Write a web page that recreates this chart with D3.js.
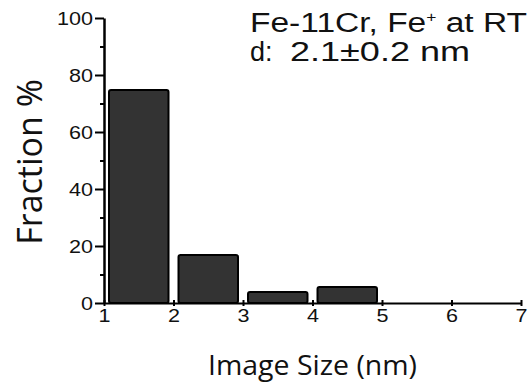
<!DOCTYPE html>
<html>
<head>
<meta charset="utf-8">
<script src="https://cdn.jsdelivr.net/npm/d3@7"></script>
<style>
  body { margin: 0; background: #fff; }
  svg { display: block; }
</style>
</head>
<body>
<div id="chart"></div>
<script>
"use strict";

// histogram bins (nm) and fraction values
var binLow = [1, 2, 3, 4];
var binHigh = [2, 3, 4, 5];
var fraction = [74.7, 16.8, 3.9, 5.6];

var xTicks = [1, 2, 3, 4, 5, 6, 7];
var yTicks = [0, 20, 40, 60, 80, 100];
var yMinorTicks = [10, 30, 50, 70, 90];

var titleLine1 = "Fe-11Cr, Fe";
var titleSup = "+";
var titleLine1b = " at RT";
var titleLine2a = "d:";
var titleLine2b = "2.1\u00b10.2 nm";
var xLabel = "Image Size (nm)";
var yLabel = "Fraction %";

var width = 532, height = 383;

var svg = d3.select("#chart")
    .append("svg")
    .attr("width", width)
    .attr("height", height);

var x = d3.scaleLinear().domain([1, 7]).range([104, 521]);
var y = d3.scaleLinear().domain([0, 100]).range([303, 18]);

var tickFont = "'Liberation Sans', Arial, sans-serif";

// bars
var bins = binLow.map(function(d, i) {
  return { lo: d, hi: binHigh[i], v: fraction[i] };
});

svg.append("g")
  .selectAll("rect")
  .data(bins)
  .enter()
  .append("rect")
    .attr("x", function(d) { return x(d.lo) + 5; })
    .attr("y", function(d) { return y(d.v); })
    .attr("width", function(d) { return x(d.hi) - x(d.lo) - 10; })
    .attr("height", function(d) { return y(0) - y(d.v); })
    .attr("rx", 2)
    .attr("fill", "#333333")
    .attr("stroke", "#000")
    .attr("stroke-width", 2);

// y minor ticks
var yMinor = svg.append("g")
    .attr("transform", "translate(" + x(1) + ",0)")
    .call(d3.axisLeft(y).tickValues(yMinorTicks).tickSize(4).tickFormat(""));
yMinor.select(".domain").remove();
yMinor.selectAll("line").attr("stroke-width", 2);

// y axis
var yAxis = svg.append("g")
    .attr("transform", "translate(" + x(1) + ",0)")
    .call(d3.axisLeft(y).tickValues(yTicks).tickSize(9).tickPadding(2).tickSizeOuter(0));
yAxis.select(".domain").attr("stroke-width", 2.5);
yAxis.selectAll("line").attr("stroke-width", 2);
yAxis.selectAll("text")
    .attr("font-family", tickFont)
    .attr("font-size", "19px")
    .attr("fill", "#111")
    .attr("textLength", function(d) { return String(d).length * 12; })
    .attr("lengthAdjust", "spacingAndGlyphs");

// x axis
var xAxis = svg.append("g")
    .attr("transform", "translate(0," + y(0) + ")")
    .call(d3.axisBottom(x).tickValues(xTicks).tickFormat(d3.format("d"))
      .tickSize(3).tickPadding(3).tickSizeOuter(0));
xAxis.select(".domain").attr("stroke-width", 2);
xAxis.selectAll("line").attr("y1", -3).attr("stroke-width", 2);
xAxis.selectAll("text")
    .attr("font-family", tickFont)
    .attr("font-size", "19px")
    .attr("fill", "#111")
    .attr("textLength", 12)
    .attr("lengthAdjust", "spacingAndGlyphs");

// axis titles
svg.append("text")
    .attr("x", 208)
    .attr("y", 375)
    .attr("font-family", "'Open Sans', sans-serif")
    .attr("font-size", "27px")
    .attr("fill", "#111")
    .attr("textLength", 209)
    .attr("lengthAdjust", "spacingAndGlyphs")
    .text(xLabel);

svg.append("text")
    .attr("transform", "translate(42,162) rotate(-90)")
    .attr("text-anchor", "middle")
    .attr("font-family", "'Open Sans', sans-serif")
    .attr("font-size", "34px")
    .attr("fill", "#111")
    .text(yLabel);

// annotation
var t1 = svg.append("text")
    .attr("x", 250)
    .attr("y", 32)
    .attr("font-family", tickFont)
    .attr("font-size", "27px")
    .attr("fill", "#111")
    .attr("textLength", 277)
    .attr("lengthAdjust", "spacingAndGlyphs");
t1.append("tspan").text(titleLine1);
t1.append("tspan").attr("dy", -10).attr("font-size", "14px").text(titleSup);
t1.append("tspan").attr("dy", 10).text(titleLine1b);

svg.append("text")
    .attr("x", 250)
    .attr("y", 61)
    .attr("font-family", tickFont)
    .attr("font-size", "27px")
    .attr("fill", "#111")
    .text(titleLine2a);

svg.append("text")
    .attr("x", 290)
    .attr("y", 61)
    .attr("font-family", tickFont)
    .attr("font-size", "27px")
    .attr("fill", "#111")
    .attr("textLength", 180)
    .attr("lengthAdjust", "spacingAndGlyphs")
    .text(titleLine2b);
</script>
</body>
</html>
